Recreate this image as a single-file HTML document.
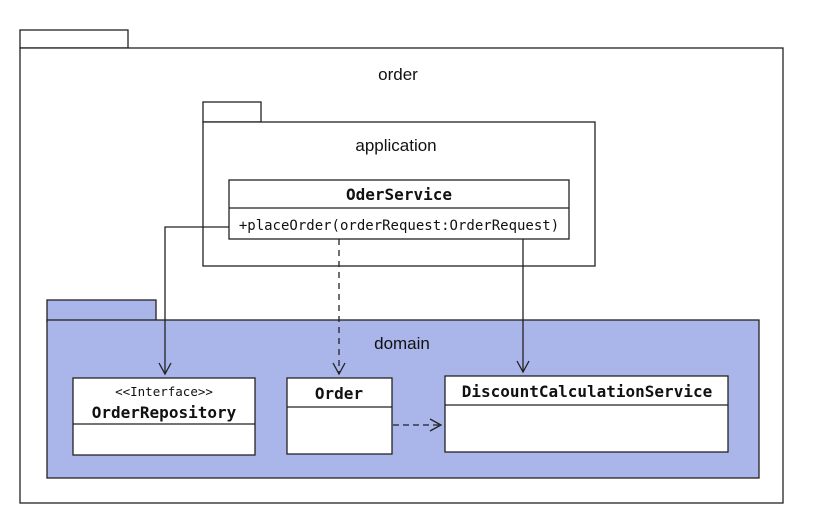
<!DOCTYPE html>
<html><head><meta charset="utf-8"><style>
body{margin:0;background:#fff}
svg text{font-family:"DejaVu Sans Mono","Liberation Mono",monospace}
</style></head><body>
<svg width="817" height="520" viewBox="0 0 817 520" xmlns="http://www.w3.org/2000/svg">
<defs>
<marker id="r" markerWidth="14" markerHeight="14" refX="12" refY="7" orient="auto" markerUnits="userSpaceOnUse"><path d="M1,1 L12,7 L1,13" fill="none" stroke="#222" stroke-width="1.3"/></marker>
</defs>
<g stroke="#222" stroke-width="1.3">
<rect x="20" y="30" width="108" height="18" fill="#fff"/>
<rect x="20" y="48" width="763" height="455" fill="#fff"/>
<rect x="203" y="102" width="58" height="20" fill="#fff"/>
<rect x="203" y="122" width="392" height="144" fill="#fff"/>
<rect x="47" y="300" width="109" height="22" fill="#aab5ea"/>
<rect x="47" y="320" width="712" height="158" fill="#aab5ea"/>
</g>
<g fill="#111" font-size="17" text-anchor="middle">
<text x="398" y="80" style="font-family:'Liberation Sans',sans-serif">order</text>
<text x="396" y="151" style="font-family:'Liberation Sans',sans-serif">application</text>
<text x="402" y="349" style="font-family:'Liberation Sans',sans-serif">domain</text>
</g>
<g stroke="#222" stroke-width="1.3" fill="#fff">
<rect x="229" y="180" width="340" height="59"/>
<line x1="229" y1="208" x2="569" y2="208"/>
<rect x="73" y="378" width="182" height="77"/>
<line x1="73" y1="424" x2="255" y2="424"/>
<rect x="287" y="378" width="105" height="76"/>
<line x1="287" y1="407" x2="392" y2="407"/>
<rect x="445" y="376" width="283" height="76"/>
<line x1="445" y1="405" x2="728" y2="405"/>
</g>
<g fill="#111" text-anchor="middle">
<text x="399" y="200" font-size="16" font-weight="bold">OderService</text>
<text x="399" y="230" font-size="14">+placeOrder(orderRequest:OrderRequest)</text>
<text x="164" y="396" font-size="12.5">&lt;&lt;Interface&gt;&gt;</text>
<text x="164" y="418" font-size="16" font-weight="bold">OrderRepository</text>
<text x="339" y="399" font-size="16" font-weight="bold">Order</text>
<text x="587" y="397" font-size="16" font-weight="bold">DiscountCalculationService</text>
</g>
<g fill="none" stroke="#222" stroke-width="1.3">
<polyline points="229,227 165,227 165,374" marker-end="url(#r)"/>
<line x1="339" y1="239" x2="339" y2="374" stroke-dasharray="6,5" marker-end="url(#r)"/>
<line x1="523" y1="239" x2="523" y2="372" marker-end="url(#r)"/>
<line x1="393" y1="425" x2="441" y2="425" stroke-dasharray="6,4" marker-end="url(#r)"/>
</g>
</svg>
</body></html>
